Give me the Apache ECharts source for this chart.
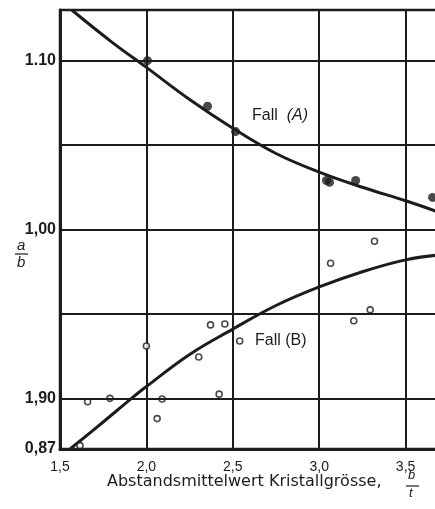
<!DOCTYPE html>
<html>
<head>
<meta charset="utf-8">
<script src="https://cdn.jsdelivr.net/npm/echarts@6/dist/echarts.min.js"></script>
<style>
  html, body { margin: 0; padding: 0; background: #ffffff; }
  #chart { width: 435px; height: 509px; }
</style>
</head>
<body>
<div id="chart"></div>
<script>
// Measured points, case A (filled dots): mean spacing vs. a/b
const fallAX = [2.006, 2.354, 2.516, 3.042, 3.060, 3.211, 3.656];
const fallAY = [1.100, 1.073, 1.058, 1.029, 1.028, 1.029, 1.019];

// Measured points, case B (open circles)
const fallBX = [1.616, 1.660, 1.789, 2.000, 2.062, 2.091, 2.303, 2.371, 2.421, 2.454, 2.540, 3.066, 3.200, 3.295, 3.320];
const fallBY = [0.872, 0.898, 0.900, 0.931, 0.888, 0.8996, 0.9245, 0.9435, 0.9025, 0.944, 0.934, 0.980, 0.946, 0.9524, 0.993];

// Drawn trend curves
const curveAX = [1.568, 1.80, 2.00, 2.25, 2.50, 2.75, 3.00, 3.25, 3.50, 3.70];
const curveAY = [1.130, 1.111, 1.096, 1.077, 1.060, 1.045, 1.034, 1.025, 1.017, 1.010];
const curveBX = [1.558, 1.75, 1.914, 2.00, 2.25, 2.50, 2.75, 3.00, 3.25, 3.50, 3.70];
const curveBY = [0.870, 0.886, 0.900, 0.907, 0.926, 0.941, 0.955, 0.966, 0.975, 0.982, 0.985];

// Axis ticks and labels (as printed)
const yTickValues = [0.87, 0.90, 1.00, 1.10];
const yTickLabels = ['0,87', '1,90', '1,00', '1.10'];
const yGridValues = [0.90, 0.95, 1.00, 1.05, 1.10];
const xTickValues = [1.5, 2.0, 2.5, 3.0, 3.5, 4.0];
const xTickLabels = ['1,5', '2,0', '2,5', '3,0', '3,5', '4,0'];

const ink = '#1c1c1c';
const zip = (xs, ys) => xs.map((x, i) => [x, ys[i]]);

const chart = echarts.init(document.getElementById('chart'), null, { renderer: 'canvas' });

chart.setOption({
  backgroundColor: '#ffffff',
  animation: false,
  grid: {
    left: 60, top: 10, width: 432, height: 439,
    outerBoundsMode: 'none', containLabel: false,
    show: true, borderColor: ink, borderWidth: 2.5, backgroundColor: 'transparent'
  },
  xAxis: {
    type: 'value', min: 1.5, max: 4.0, interval: 0.5,
    axisLine: { show: true, lineStyle: { color: ink, width: 3 } },
    axisTick: { show: false },
    splitLine: { show: true, lineStyle: { color: ink, width: 2 } },
    axisLabel: {
      margin: 11, color: ink, fontSize: 14, fontFamily: 'Liberation Sans',
      formatter: v => {
        const i = xTickValues.findIndex(t => Math.abs(t - v) < 1e-6);
        return i >= 0 ? xTickLabels[i] : '';
      }
    }
  },
  yAxis: {
    type: 'value', min: 0.87, max: 1.13, interval: 0.01,
    axisLine: { show: true, lineStyle: { color: ink, width: 3 } },
    axisTick: { show: false },
    splitLine: { show: false },
    axisLabel: {
      margin: 4, color: ink, fontSize: 16, fontWeight: 'bold', fontFamily: 'Liberation Sans',
      formatter: v => {
        const i = yTickValues.findIndex(t => Math.abs(t - v) < 1e-6);
        return i >= 0 ? yTickLabels[i] : '';
      }
    }
  },
  series: [
    {
      name: 'grid',
      type: 'line', data: [], silent: true,
      markLine: {
        silent: true, symbol: 'none', label: { show: false },
        lineStyle: { color: ink, width: 2, type: 'solid' },
        data: yGridValues.map(v => ({ yAxis: v }))
      }
    },
    {
      name: 'Kurve A', type: 'line', smooth: 0.4, symbol: 'none', clip: true,
      lineStyle: { color: ink, width: 3 },
      data: zip(curveAX, curveAY), z: 3
    },
    {
      name: 'Kurve B', type: 'line', smooth: 0.4, symbol: 'none', clip: true,
      lineStyle: { color: ink, width: 3 },
      data: zip(curveBX, curveBY), z: 3
    },
    {
      name: 'Fall (A)', type: 'scatter', symbol: 'circle', symbolSize: 9,
      itemStyle: { color: ink },
      data: zip(fallAX, fallAY), z: 4
    },
    {
      name: 'Fall (B)', type: 'scatter', symbol: 'circle', symbolSize: 6,
      itemStyle: { color: '#ffffff', borderColor: ink, borderWidth: 1.6 },
      data: zip(fallBX, fallBY), z: 4
    }
  ],
  graphic: [
    // case labels
    {
      type: 'text', left: 252, top: 108, z: 10,
      style: {
        text: '{n|Fall  }{i|(A)}',
        rich: {
          n: { fontSize: 16, fontFamily: 'Liberation Sans', fill: ink },
          i: { fontSize: 16, fontFamily: 'Liberation Sans', fontStyle: 'italic', fill: ink }
        }
      }
    },
    {
      type: 'text', left: 255, top: 333, z: 10,
      style: { text: 'Fall (B)', fontSize: 16, fontFamily: 'Liberation Sans', fill: ink }
    },
    // y axis name a/b
    {
      type: 'text', left: 17, top: 238, z: 10,
      style: { text: 'a', fontSize: 15, fontStyle: 'italic', fontFamily: 'Liberation Sans', fill: ink }
    },
    {
      type: 'line', z: 10,
      shape: { x1: 15, y1: 254, x2: 28, y2: 254 },
      style: { stroke: ink, lineWidth: 1.2 }
    },
    {
      type: 'text', left: 17, top: 255, z: 10,
      style: { text: 'b', fontSize: 15, fontStyle: 'italic', fontFamily: 'Liberation Sans', fill: ink }
    },
    // x axis name
    {
      type: 'text', left: 107, top: 474, z: 10,
      style: { text: 'Abstandsmittelwert Kristallgrösse,', fontSize: 16, fontFamily: 'DejaVu Sans', fill: ink }
    },
    {
      type: 'text', left: 408, top: 469, z: 10,
      style: { text: 'b', fontSize: 13, fontStyle: 'italic', fontFamily: 'Liberation Sans', fill: ink }
    },
    {
      type: 'line', z: 10,
      shape: { x1: 406, y1: 486, x2: 419, y2: 486 },
      style: { stroke: ink, lineWidth: 1.2 }
    },
    {
      type: 'text', left: 409, top: 487, z: 10,
      style: { text: 't', fontSize: 13, fontStyle: 'italic', fontFamily: 'Liberation Sans', fill: ink }
    }
  ]
});
</script>
</body>
</html>
